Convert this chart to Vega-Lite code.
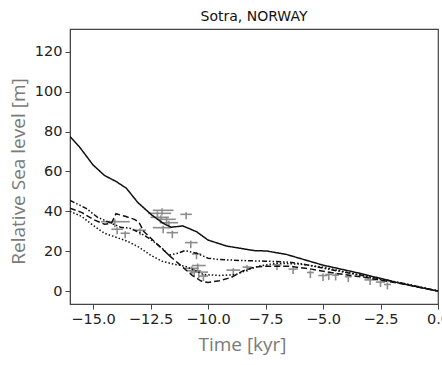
{
  "$schema": "https://vega.github.io/schema/vega-lite/v6.json",
  "autosize": "none",
  "width": 368,
  "height": 275,
  "padding": {"left": 70, "top": 29, "right": 4, "bottom": 61},
  "background": "white",
  "config": {
    "view": {"stroke": "#444", "strokeWidth": 1.2},
    "axis": {"grid": false, "domainColor": "#444", "tickColor": "#444", "labelFont": "DejaVu Sans", "labelFontSize": 14.5, "labelColor": "#222", "tickSize": 5, "labelPadding": 3, "titleFont": "Open Sans", "titleFontSize": 19, "titleColor": "#7a7a7a", "titleFontWeight": "normal"}
  },
  "title": {"text": "Sotra, NORWAY", "font": "DejaVu Sans", "fontSize": 14, "fontWeight": "normal", "color": "#111", "offset": 5},
  "datasets": {
    "lines": [
      {"model": "solid", "t": -16, "rsl": 77.5}, {"model": "solid", "t": -15.6, "rsl": 72.5}, {"model": "solid", "t": -15, "rsl": 63.3}, {"model": "solid", "t": -14.5, "rsl": 58}, {"model": "solid", "t": -14, "rsl": 55}, {"model": "solid", "t": -13.55, "rsl": 51.6}, {"model": "solid", "t": -13.05, "rsl": 44.4}, {"model": "solid", "t": -12.45, "rsl": 38.2}, {"model": "solid", "t": -11.95, "rsl": 34}, {"model": "solid", "t": -11.6, "rsl": 32}, {"model": "solid", "t": -11.1, "rsl": 32.7}, {"model": "solid", "t": -10.5, "rsl": 29.8}, {"model": "solid", "t": -10, "rsl": 25.6}, {"model": "solid", "t": -9.2, "rsl": 22.6}, {"model": "solid", "t": -8.0, "rsl": 20.3}, {"model": "solid", "t": -7.45, "rsl": 20.1}, {"model": "solid", "t": -6.6, "rsl": 18.4}, {"model": "solid", "t": -5, "rsl": 13}, {"model": "solid", "t": -3.4, "rsl": 8.9}, {"model": "solid", "t": -1.65, "rsl": 3.9}, {"model": "solid", "t": 0, "rsl": 0},
      {"model": "dashed", "t": -16, "rsl": 41.6}, {"model": "dashed", "t": -15.5, "rsl": 39.5}, {"model": "dashed", "t": -15, "rsl": 36}, {"model": "dashed", "t": -14.5, "rsl": 33.5}, {"model": "dashed", "t": -14.2, "rsl": 34}, {"model": "dashed", "t": -14.0, "rsl": 38.8}, {"model": "dashed", "t": -13.6, "rsl": 37.5}, {"model": "dashed", "t": -13.2, "rsl": 36}, {"model": "dashed", "t": -13.0, "rsl": 34.5}, {"model": "dashed", "t": -12.8, "rsl": 30}, {"model": "dashed", "t": -12.3, "rsl": 24.5}, {"model": "dashed", "t": -11.7, "rsl": 18}, {"model": "dashed", "t": -11.2, "rsl": 13}, {"model": "dashed", "t": -10.7, "rsl": 8}, {"model": "dashed", "t": -10.3, "rsl": 5}, {"model": "dashed", "t": -10.0, "rsl": 4.3}, {"model": "dashed", "t": -9.5, "rsl": 5.2}, {"model": "dashed", "t": -9.0, "rsl": 6.8}, {"model": "dashed", "t": -8.5, "rsl": 10}, {"model": "dashed", "t": -8.0, "rsl": 12}, {"model": "dashed", "t": -7.5, "rsl": 12.5}, {"model": "dashed", "t": -6.5, "rsl": 12.5}, {"model": "dashed", "t": -5.5, "rsl": 11}, {"model": "dashed", "t": -4.5, "rsl": 9}, {"model": "dashed", "t": -3, "rsl": 6.5}, {"model": "dashed", "t": -1.5, "rsl": 3.5}, {"model": "dashed", "t": 0, "rsl": 0},
      {"model": "dashdot", "t": -16, "rsl": 45.5}, {"model": "dashdot", "t": -15.3, "rsl": 41.5}, {"model": "dashdot", "t": -14.8, "rsl": 37}, {"model": "dashdot", "t": -14.3, "rsl": 34.5}, {"model": "dashdot", "t": -13.8, "rsl": 32}, {"model": "dashdot", "t": -13.4, "rsl": 31.5}, {"model": "dashdot", "t": -13.0, "rsl": 29.5}, {"model": "dashdot", "t": -12.5, "rsl": 26}, {"model": "dashdot", "t": -12, "rsl": 21.5}, {"model": "dashdot", "t": -11.7, "rsl": 18}, {"model": "dashdot", "t": -11.3, "rsl": 19}, {"model": "dashdot", "t": -11.0, "rsl": 20.3}, {"model": "dashdot", "t": -10.5, "rsl": 19}, {"model": "dashdot", "t": -10, "rsl": 16.5}, {"model": "dashdot", "t": -9.5, "rsl": 15.8}, {"model": "dashdot", "t": -8.5, "rsl": 15.3}, {"model": "dashdot", "t": -7.5, "rsl": 15}, {"model": "dashdot", "t": -6.5, "rsl": 14.5}, {"model": "dashdot", "t": -6, "rsl": 13.8}, {"model": "dashdot", "t": -5, "rsl": 11.5}, {"model": "dashdot", "t": -4, "rsl": 9.3}, {"model": "dashdot", "t": -3, "rsl": 7.2}, {"model": "dashdot", "t": -1.5, "rsl": 3.8}, {"model": "dashdot", "t": 0, "rsl": 0},
      {"model": "dotted", "t": -16, "rsl": 40}, {"model": "dotted", "t": -15.5, "rsl": 37.5}, {"model": "dotted", "t": -15, "rsl": 33}, {"model": "dotted", "t": -14.5, "rsl": 29}, {"model": "dotted", "t": -14, "rsl": 27}, {"model": "dotted", "t": -13.5, "rsl": 25}, {"model": "dotted", "t": -13, "rsl": 22}, {"model": "dotted", "t": -12.5, "rsl": 18}, {"model": "dotted", "t": -12, "rsl": 15}, {"model": "dotted", "t": -11.5, "rsl": 13.5}, {"model": "dotted", "t": -11, "rsl": 12.5}, {"model": "dotted", "t": -10.5, "rsl": 10}, {"model": "dotted", "t": -10.2, "rsl": 8.3}, {"model": "dotted", "t": -9.5, "rsl": 7.8}, {"model": "dotted", "t": -8.8, "rsl": 8.2}, {"model": "dotted", "t": -8.3, "rsl": 10.5}, {"model": "dotted", "t": -7.8, "rsl": 12.5}, {"model": "dotted", "t": -7, "rsl": 14}, {"model": "dotted", "t": -6, "rsl": 13.5}, {"model": "dotted", "t": -5, "rsl": 12}, {"model": "dotted", "t": -4, "rsl": 9.5}, {"model": "dotted", "t": -3, "rsl": 7}, {"model": "dotted", "t": -1.5, "rsl": 3.8}, {"model": "dotted", "t": 0, "rsl": 0}
    ],
    "obs": [
      {"t": -14.05, "r": 34.8, "tmin": -14.65, "tmax": -13.4, "rmin": 32, "rmax": 36},
      {"t": -13.95, "r": 31, "tmin": -14.2, "tmax": -13.7, "rmin": 28.5, "rmax": 32},
      {"t": -13.6, "r": 29, "tmin": -13.8, "tmax": -13.4, "rmin": 26.5, "rmax": 30},
      {"t": -12.95, "r": 30.5, "tmin": -13.2, "tmax": -12.7, "rmin": 28, "rmax": 31.5},
      {"t": -12.2, "r": 39, "tmin": -12.6, "tmax": -11.6, "rmin": 36.5, "rmax": 40},
      {"t": -12.0, "r": 40.5, "tmin": -12.4, "tmax": -11.5, "rmin": 38, "rmax": 41.5},
      {"t": -12.05, "r": 37, "tmin": -12.5, "tmax": -11.7, "rmin": 34.5, "rmax": 38},
      {"t": -11.8, "r": 36, "tmin": -12.2, "tmax": -11.4, "rmin": 33.5, "rmax": 37},
      {"t": -11.7, "r": 34.3, "tmin": -12.1, "tmax": -11.3, "rmin": 31.5, "rmax": 35.3},
      {"t": -11.95, "r": 31.8, "tmin": -12.4, "tmax": -11.6, "rmin": 29, "rmax": 32.8},
      {"t": -11.55, "r": 29.3, "tmin": -11.8, "tmax": -11.3, "rmin": 26.5, "rmax": 30.3},
      {"t": -10.95, "r": 38.5, "tmin": -11.2, "tmax": -10.7, "rmin": 36, "rmax": 39.5},
      {"t": -10.75, "r": 24.3, "tmin": -11.0, "tmax": -10.45, "rmin": 21.5, "rmax": 25.3},
      {"t": -10.5, "r": 18.6, "tmin": -10.7, "tmax": -10.3, "rmin": 16, "rmax": 19.6},
      {"t": -10.7, "r": 11.4, "tmin": -11.0, "tmax": -10.4, "rmin": 8.5, "rmax": 12.4},
      {"t": -10.45, "r": 12.8, "tmin": -10.7, "tmax": -10.1, "rmin": 10, "rmax": 13.8},
      {"t": -10.4, "r": 9.5, "tmin": -10.8, "tmax": -10.0, "rmin": 6.5, "rmax": 10.5},
      {"t": -10.2, "r": 7.5, "tmin": -10.4, "tmax": -10.0, "rmin": 5, "rmax": 8.5},
      {"t": -10.6, "r": 10.2, "tmin": -10.9, "tmax": -10.3, "rmin": 7.5, "rmax": 11.2},
      {"t": -8.9, "r": 10.5, "tmin": -9.2, "tmax": -8.6, "rmin": 8, "rmax": 11.5},
      {"t": -8.3, "r": 12, "tmin": -8.5, "tmax": -8.1, "rmin": 9.5, "rmax": 13},
      {"t": -7.0, "r": 13.2, "tmin": -7.2, "tmax": -6.8, "rmin": 10.5, "rmax": 14.2},
      {"t": -6.3, "r": 11, "tmin": -6.5, "tmax": -6.1, "rmin": 8.5, "rmax": 12},
      {"t": -5.55, "r": 9.3, "tmin": -5.7, "tmax": -5.4, "rmin": 6.5, "rmax": 10.3},
      {"t": -5.0, "r": 7.8, "tmin": -5.2, "tmax": -4.8, "rmin": 5, "rmax": 8.8},
      {"t": -4.75, "r": 8.3, "tmin": -4.9, "tmax": -4.6, "rmin": 5.5, "rmax": 9.3},
      {"t": -4.45, "r": 8, "tmin": -4.6, "tmax": -4.3, "rmin": 5.3, "rmax": 9},
      {"t": -3.9, "r": 7.2, "tmin": -4.05, "tmax": -3.75, "rmin": 4.5, "rmax": 8.2},
      {"t": -2.95, "r": 5.6, "tmin": -3.2, "tmax": -2.7, "rmin": 3, "rmax": 6.6},
      {"t": -2.5, "r": 4.5, "tmin": -2.7, "tmax": -2.3, "rmin": 2, "rmax": 5.5},
      {"t": -2.2, "r": 3.3, "tmin": -2.35, "tmax": -2.05, "rmin": 0.8, "rmax": 4.3}
    ]
  },
  "layer": [
    {
      "data": {"name": "obs"},
      "mark": {"type": "rule", "color": "#8c8c8c", "strokeWidth": 1.6},
      "encoding": {
        "x": {"field": "tmin", "type": "quantitative", "scale": {"domain": [-16, 0], "nice": false, "zero": false}},
        "x2": {"field": "tmax"},
        "y": {"field": "r", "type": "quantitative", "scale": {"domain": [-6.5, 131.5], "nice": false, "zero": false}}
      }
    },
    {
      "data": {"name": "obs"},
      "mark": {"type": "rule", "color": "#8c8c8c", "strokeWidth": 1.6},
      "encoding": {
        "x": {"field": "t", "type": "quantitative"},
        "y": {"field": "rmin", "type": "quantitative"},
        "y2": {"field": "rmax"}
      }
    },
    {
      "data": {"name": "lines"},
      "mark": {"type": "line", "color": "#111", "strokeWidth": 1.5, "clip": true},
      "encoding": {
        "x": {"field": "t", "type": "quantitative",
              "axis": {"values": [-15, -12.5, -10, -7.5, -5, -2.5, 0], "format": ".1f", "title": "Time [kyr]", "titleX": 172, "titleY": 31, "titleBaseline": "top", "labelOverlap": false, "labelFlush": false}},
        "y": {"field": "rsl", "type": "quantitative",
              "axis": {"values": [0, 20, 40, 60, 80, 100, 120], "title": "Relative Sea level [m]", "titleX": -52, "titleY": 142, "titleAngle": -90, "titleAlign": "center", "titleBaseline": "middle"}},
        "detail": {"field": "model"},
        "strokeDash": {"field": "model", "type": "nominal", "legend": null,
                       "scale": {"domain": ["solid", "dashed", "dashdot", "dotted"], "range": [[1, 0], [6, 3], [5, 2, 1.5, 2, 1.5, 2], [1.5, 2]]}}
      }
    }
  ]
}
